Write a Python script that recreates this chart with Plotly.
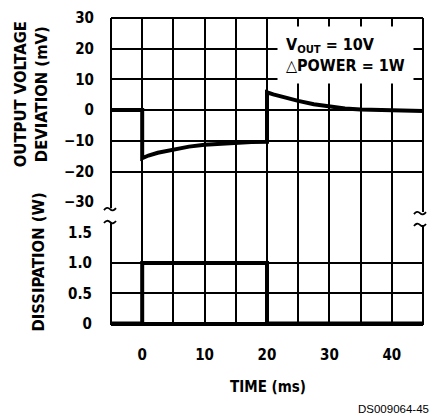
import plotly.graph_objects as go

# ---- data ----
time_v = [-5, 0, 0, 1, 2.5, 5, 7.5, 10, 12.5, 15, 17.5, 20,
          20, 21, 22.5, 25, 27.5, 30, 32.5, 35, 37.5, 40, 42.5, 45]
vout_dev = [0, 0, -15.7, -14.8, -13.9, -12.8, -11.9, -11.3, -10.9, -10.6, -10.4, -10.3,
            5.8, 5.1, 4.2, 3.0, 1.9, 1.1, 0.5, 0.2, 0.0, -0.2, -0.3, -0.3]
time_p = [-5, 0, 0, 20, 20, 45]
power = [0, 0, 1, 1, 0, 0]

x_ticks = [0, 10, 20, 30, 40]
x_ticktext = ['0', '10', '20', '30', '40']
x_minor = [-5, 5, 15, 25, 35, 45]
x_inner = [0, 5, 10, 15, 20, 25, 30, 35, 40]
v_ticks = [-30, -20, -10, 0, 10, 20, 30]
v_ticktext = ['\u221230', '\u221220', '\u221210', '0', '10', '20', '30']
p_ticks = [0, 0.5, 1.0, 1.5]
p_ticktext = ['0', '0.5', '1.0', '1.5']

FONT = "Liberation Sans Narrow, DejaVu Sans Condensed, Arial Narrow, sans-serif"
W, H = 432, 418
L, R, T, B = 111, 9, 15, 93
PW, PH = W - L - R, H - T - B


def px(x):
    return (x - L) / PW


def py(y):
    return (H - B - y) / PH


fig = go.Figure()
fig.add_trace(go.Scatter(x=time_v, y=vout_dev, mode='lines', xaxis='x', yaxis='y',
                         line=dict(color='black', width=4), showlegend=False))
fig.add_trace(go.Scatter(x=time_p, y=power, mode='lines', xaxis='x', yaxis='y2',
                         line=dict(color='black', width=4), showlegend=False))
fig.add_trace(go.Scatter(x=[None], y=[None], mode='lines', xaxis='x2', yaxis='y3',
                         showlegend=False, hoverinfo='skip'))

grid = dict(showgrid=True, gridcolor='black', gridwidth=1.6, zeroline=False, showline=False)

fig.update_layout(
    width=W, height=H,
    margin=dict(l=L, r=R, t=T, b=B),
    paper_bgcolor='white', plot_bgcolor='white',
    font=dict(family=FONT, color='black', size=15, weight='bold'),
    xaxis=dict(range=[-5, 45], tickvals=x_ticks, ticktext=x_ticktext, anchor='y2',
               ticks='outside', ticklen=16, tickcolor='rgba(0,0,0,0)',
               tickfont=dict(size=15, weight='bold'),
               minor=dict(tickvals=x_minor, showgrid=True, gridcolor='black', gridwidth=1.6,
                          ticks=''),
               **grid),
    xaxis2=dict(range=[-5, 45], tickvals=x_inner, showticklabels=False, anchor='y3',
                overlaying='x', **grid),
    yaxis=dict(domain=[0.4, 1.0], range=[-30, 30], tickvals=v_ticks, ticktext=v_ticktext,
               anchor='x', ticks='outside', ticklen=13, tickcolor='rgba(0,0,0,0)',
               tickfont=dict(size=15, weight='bold'), **grid),
    yaxis2=dict(domain=[0.0, 0.3], range=[-0.025, 1.5], tickvals=p_ticks, ticktext=p_ticktext,
                anchor='x', ticks='outside', ticklen=15, tickcolor='rgba(0,0,0,0)',
                tickfont=dict(size=15, weight='bold'), **grid),
    yaxis3=dict(domain=[0.3, 0.4], range=[0, 1], showticklabels=False, showgrid=False,
                zeroline=False, anchor='x2'),
)

# frame with axis breaks
lw = 2
frame = [
    ((L, T), (W - R, T)),
    ((L, H - B), (W - R, H - B)),
    ((L, T), (L, 207)),
    ((L, 221), (L, H - B)),
    ((W - R, T), (W - R, 211)),
    ((W - R, 224), (W - R, H - B)),
]
shapes = []
for (a, b) in frame:
    shapes.append(dict(type='line', xref='paper', yref='paper',
                       x0=px(a[0]), y0=py(a[1]), x1=px(b[0]), y1=py(b[1]),
                       line=dict(color='black', width=lw)))


def squiggle(cx, cy):
    pts = [(cx - 6, cy + 1), (cx - 3, cy - 3), (cx, cy), (cx + 3, cy + 3), (cx + 6, cy - 1)]
    p = [(px(a), py(b)) for a, b in pts]
    return (f"M {p[0][0]},{p[0][1]} Q {p[1][0]},{p[1][1]} {p[2][0]},{p[2][1]} "
            f"Q {p[3][0]},{p[3][1]} {p[4][0]},{p[4][1]}")


for cx, cy in [(L - 1, 208), (L - 1, 221), (W - R - 3, 212), (W - R - 3, 224)]:
    shapes.append(dict(type='path', xref='paper', yref='paper', path=squiggle(cx, cy),
                       line=dict(color='black', width=1.8)))
fig.update_layout(shapes=shapes)

ann = [
    dict(text='OUTPUT VOLTAGE<br>DEVIATION (mV)', x=px(31), y=py(92), textangle=-90,
         font=dict(size=16.5, weight='bold')),
    dict(text='DISSIPATION (W)', x=px(39), y=py(262), textangle=-90,
         font=dict(size=16.5, weight='bold')),
    dict(text='TIME (ms)', x=px(268), y=py(388), font=dict(size=15, weight='bold')),
    dict(text='DS009064-45', x=px(431), y=py(410), xanchor='right',
         font=dict(family='Liberation Sans, Arial, sans-serif', size=11.5, weight='normal')),
    dict(text='V<sub>OUT</sub> = 10V<br>\u25b3POWER = 1W', x=px(345), y=py(52), align='left',
         bgcolor='white', borderpad=8, font=dict(size=16, weight='bold')),
]
for a in ann:
    a.setdefault('xanchor', 'center')
    a.update(xref='paper', yref='paper', yanchor='middle', showarrow=False)
fig.update_layout(annotations=ann)

fig.write_html('out.html', config={'displayModeBar': False},
               post_script="document.body.style.margin='0';document.body.style.overflow='hidden';")
